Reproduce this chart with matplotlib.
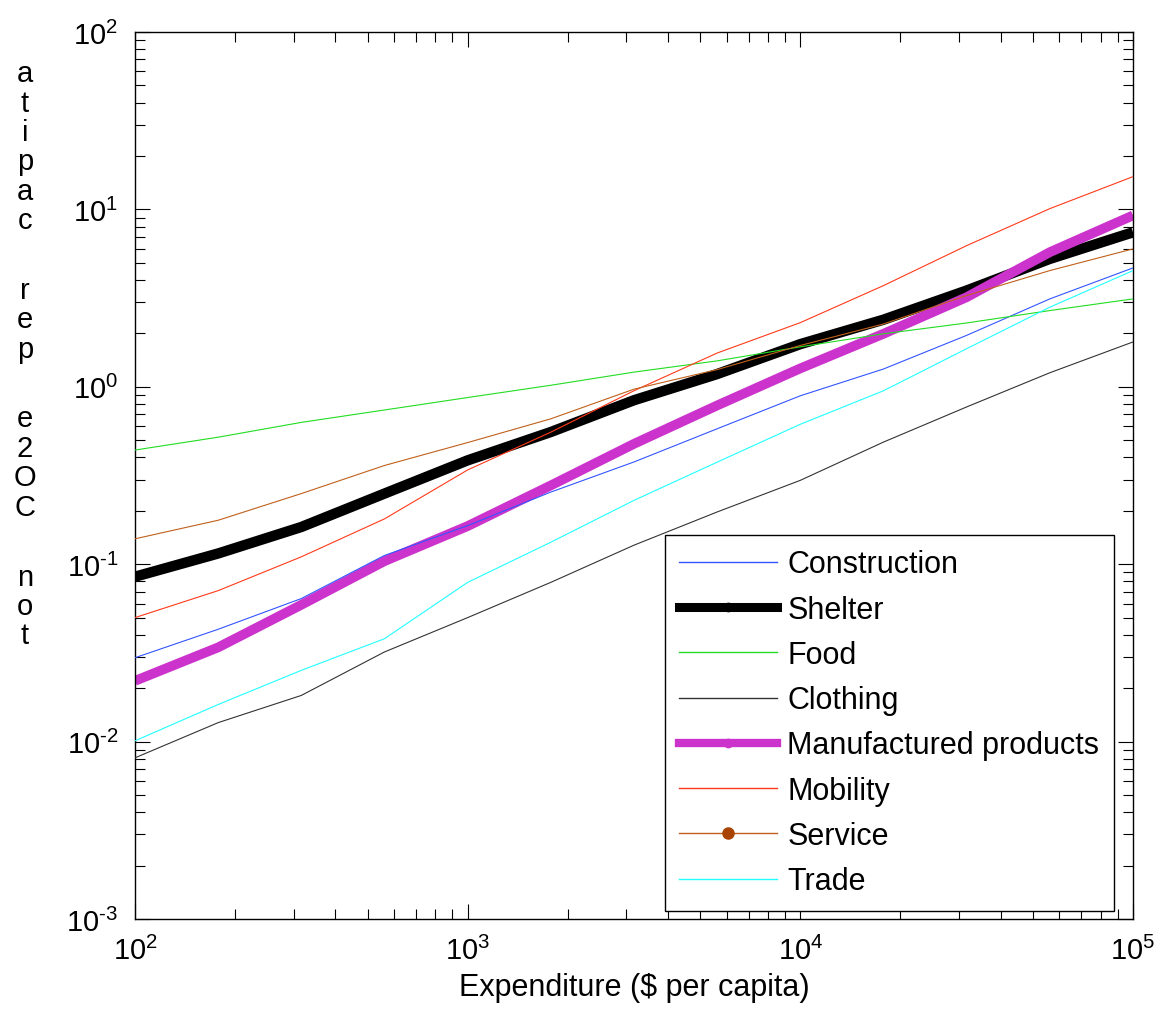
import matplotlib
matplotlib.use('Agg')
from matplotlib import pyplot as plt
from matplotlib.lines import Line2D
from matplotlib.ticker import LogLocator, NullFormatter, FuncFormatter
import numpy as np

plt.rcParams['font.family'] = ['Liberation Sans', 'DejaVu Sans']
plt.rcParams['mathtext.fontset'] = 'custom'
plt.rcParams['mathtext.rm'] = 'Liberation Sans'
plt.rcParams['mathtext.it'] = 'Liberation Sans'
plt.rcParams['axes.unicode_minus'] = False

# expenditure grid ($ per capita)
expenditure = [100, 178, 316, 562, 1000, 1778, 3162, 5623,
               10000, 17783, 31623, 56234, 100000]

# footprint per category (ton CO2e per capita)
construction = [0.0297, 0.043, 0.064, 0.112, 0.165, 0.255, 0.377, 0.58,
                0.89, 1.26, 1.95, 3.13, 4.68]
shelter = [0.085, 0.115, 0.162, 0.25, 0.385, 0.556, 0.84, 1.18,
           1.74, 2.39, 3.49, 5.26, 7.43]
food = [0.44, 0.52, 0.63, 0.74, 0.87, 1.02, 1.21, 1.40,
        1.68, 1.99, 2.29, 2.69, 3.13]
clothing = [0.0081, 0.0128, 0.0182, 0.032, 0.050, 0.079, 0.128, 0.197,
            0.297, 0.488, 0.77, 1.20, 1.79]
manufactured = [0.022, 0.034, 0.059, 0.104, 0.164, 0.278, 0.477, 0.785,
                1.27, 1.99, 3.20, 5.74, 9.25]
mobility = [0.050, 0.071, 0.110, 0.18, 0.34, 0.555, 0.95, 1.55,
            2.3, 3.72, 6.25, 10.1, 15.3]
service = [0.139, 0.177, 0.25, 0.36, 0.485, 0.66, 0.97, 1.25,
           1.71, 2.26, 3.27, 4.52, 5.99]
trade = [0.0101, 0.0162, 0.0252, 0.038, 0.079, 0.133, 0.229, 0.376,
         0.615, 0.95, 1.64, 2.81, 4.52]

names = ['Construction', 'Shelter', 'Food', 'Clothing',
         'Manufactured products', 'Mobility', 'Service', 'Trade']
series = [construction, shelter, food, clothing,
          manufactured, mobility, service, trade]
colors = ['#3355ff', '#000000', '#22dd22', '#333333',
          '#cc33cc', '#ff3a1a', '#c0601c', '#22ffff']
widths = [0.8, 7.5, 0.8, 0.8, 7.0, 0.8, 0.8, 0.8]


def pow10(v, pos):
    e = int(round(np.log10(v)))
    s = str(e).replace('-', r'\text{-}')
    return r'$\mathregular{10^{%s}}$' % s


fig = plt.figure(figsize=(11.57, 10.12), dpi=100)
ax = fig.add_axes([135/1157, 1 - 920/1012, 998/1157, 887/1012])

# thick lines first so the thin ones stay visible on top
order = [1, 4, 0, 2, 3, 5, 6, 7]
for i in order:
    ax.plot(expenditure, series[i], color=colors[i], lw=widths[i],
            solid_capstyle='butt', zorder=3 if widths[i] < 2 else 2)

ax.set_xscale('log')
ax.set_yscale('log')
ax.set_xlim(1e2, 1e5)
ax.set_ylim(1e-3, 1e2)

ax.xaxis.set_major_formatter(FuncFormatter(pow10))
ax.yaxis.set_major_formatter(FuncFormatter(pow10))
ax.xaxis.set_minor_locator(LogLocator(base=10, subs=range(2, 10), numticks=20))
ax.yaxis.set_minor_locator(LogLocator(base=10, subs=range(2, 10), numticks=20))
ax.xaxis.set_minor_formatter(NullFormatter())
ax.yaxis.set_minor_formatter(NullFormatter())
ax.tick_params(which='both', direction='in', top=True, right=True, width=0.8)
ax.tick_params(which='major', length=11, labelsize=21)
ax.tick_params(which='minor', length=7)
ax.tick_params(axis='x', which='major', pad=12)
ax.tick_params(axis='y', which='major', pad=12)
for sp in ax.spines.values():
    sp.set_linewidth(1.0)

ax.set_xlabel('Expenditure ($ per capita)', fontsize=22, labelpad=5)

# y label stacked one character per line, read bottom to top;
# word breaks get a taller gap
ylab = 'ton CO2e per capita'
ypix = 82
for ch in ylab[::-1]:
    if ch == ' ':
        ypix += 40
        continue
    fig.text(25/1157, 1 - ypix/1012, ch, fontsize=21,
             ha='center', va='baseline')
    ypix += 29.5

handles = [
    Line2D([], [], color=colors[0], lw=1.0),
    Line2D([], [], color=colors[1], lw=6.5, marker='o', markersize=6,
           markevery=[1]),
    Line2D([], [], color=colors[2], lw=1.0),
    Line2D([], [], color=colors[3], lw=1.0),
    Line2D([], [], color=colors[4], lw=6.0, marker='o', markersize=6,
           markevery=[1]),
    Line2D([], [], color=colors[5], lw=1.0),
    Line2D([], [], color=colors[6], lw=1.0, marker='o', markersize=8,
           markerfacecolor='#a84400', markeredgecolor='#a84400',
           markevery=[1]),
    Line2D([], [], color=colors[7], lw=1.0),
]
for h in handles:
    h.set_data([0, 0.5, 1], [0, 0, 0])

leg = ax.legend(handles, names, loc='lower right',
                bbox_to_anchor=(1114/1157, 1 - 912/1012),
                bbox_transform=fig.transFigure, borderaxespad=0,
                fontsize=22, frameon=True, fancybox=False, framealpha=1,
                edgecolor='black', handlelength=3.2, handletextpad=0.33,
                labelspacing=0.5, borderpad=0.48)
leg.get_frame().set_linewidth(1.0)

plt.savefig('out.png', dpi=100)
